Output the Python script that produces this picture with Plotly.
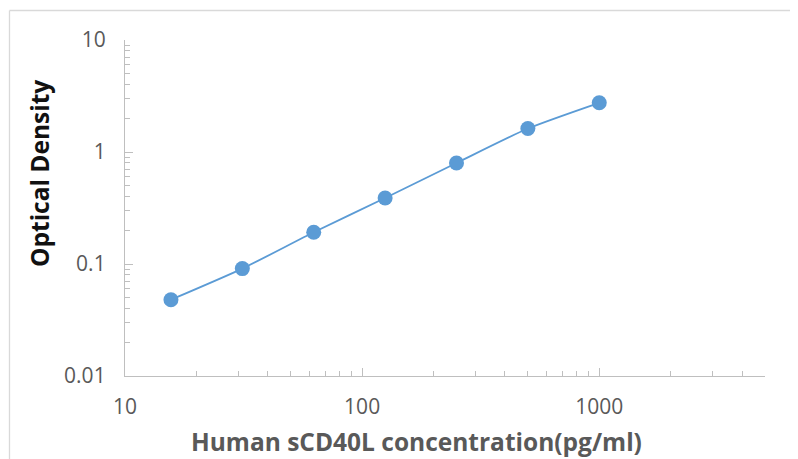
import plotly.graph_objects as go

concentration = [15.625, 31.25, 62.5, 125, 250, 500, 1000]
optical_density = [0.048, 0.091, 0.192, 0.388, 0.798, 1.62, 2.75]

x_major = [10, 100, 1000]
x_major_labels = ["10", "100", "1000"]
x_minor = [20, 30, 40, 50, 60, 70, 80, 90, 200, 300, 400, 500, 600, 700, 800, 900, 2000, 3000, 4000, 5000]
y_major = [0.01, 0.1, 1, 10]
y_major_labels = ["0.01", "0.1", "1", "10"]
y_minor = [0.02, 0.03, 0.04, 0.05, 0.06, 0.07, 0.08, 0.09,
           0.2, 0.3, 0.4, 0.5, 0.6, 0.7, 0.8, 0.9,
           2, 3, 4, 5, 6, 7, 8, 9]

blue = "#5B9BD5"
axis_gray = "#BFBFBF"
text_gray = "#595959"
font_family = "Open Sans"

# page offset of the figure (default body margin)
OFF = 8
PL, PR, PT, PB = 125, 765, 40, 376  # plot area in page pixels
PW, PH = PR - PL, PB - PT


def px(xpix):
    return (xpix - PL) / PW


def py(ypix):
    return (PB - ypix) / PH


fig = go.Figure()
fig.add_trace(go.Scatter(
    x=concentration, y=optical_density, mode="lines+markers",
    line=dict(color=blue, width=1.8, shape="spline", smoothing=0.6),
    marker=dict(color=blue, size=15),
    showlegend=False,
))

fig.update_layout(
    width=798 - OFF, height=459 - OFF,
    margin=dict(l=PL - OFF, r=798 - PR, t=PT - OFF, b=459 - PB),
    paper_bgcolor="white", plot_bgcolor="white",
    font=dict(family=font_family, color=text_gray),
    xaxis=dict(
        type="log", range=[1, 3.69897],
        tickmode="array", tickvals=x_major, ticktext=x_major_labels,
        ticks="inside", ticklen=8, tickcolor=axis_gray, tickwidth=1,
        showline=True, linecolor=axis_gray, linewidth=1.3,
        showgrid=False, zeroline=False,
        tickfont=dict(size=21, color=text_gray, family=font_family),
        ticklabelstandoff=12,
        minor=dict(tickmode="array", tickvals=x_minor, ticks="inside", ticklen=5,
                   tickcolor=axis_gray, showgrid=False),
    ),
    yaxis=dict(
        type="log", range=[-2, 1],
        tickmode="array", tickvals=y_major, ticktext=y_major_labels,
        ticks="inside", ticklen=8, tickcolor=axis_gray, tickwidth=1,
        showline=True, linecolor=axis_gray, linewidth=1.3,
        showgrid=False, zeroline=False,
        tickfont=dict(size=21, color=text_gray, family=font_family),
        ticklabelstandoff=14,
        minor=dict(tickmode="array", tickvals=y_minor, ticks="inside", ticklen=5,
                   tickcolor=axis_gray, showgrid=False),
    ),
)

fig.add_annotation(
    text="<b>Human sCD40L concentration(pg/ml)</b>",
    xref="paper", yref="paper", x=px(416), y=py(441),
    showarrow=False, xanchor="center", yanchor="middle",
    font=dict(size=24.5, color=text_gray, family=font_family),
)
fig.add_annotation(
    text="<b>Optical Density</b>",
    xref="paper", yref="paper", x=px(39), y=py(174),
    showarrow=False, xanchor="center", yanchor="middle", textangle=-90,
    font=dict(size=24.5, color="#111111", family=font_family),
)

# chart-area border (top and left edges visible in the original)
fig.add_shape(type="line", xref="paper", yref="paper",
              x0=px(9.5), x1=px(810), y0=py(10.5), y1=py(10.5),
              line=dict(color="#D9D9D9", width=1.3))
fig.add_shape(type="line", xref="paper", yref="paper",
              x0=px(9.5), x1=px(9.5), y0=py(10.5), y1=py(470),
              line=dict(color="#D9D9D9", width=1.3))

fig.write_html("out.html")
